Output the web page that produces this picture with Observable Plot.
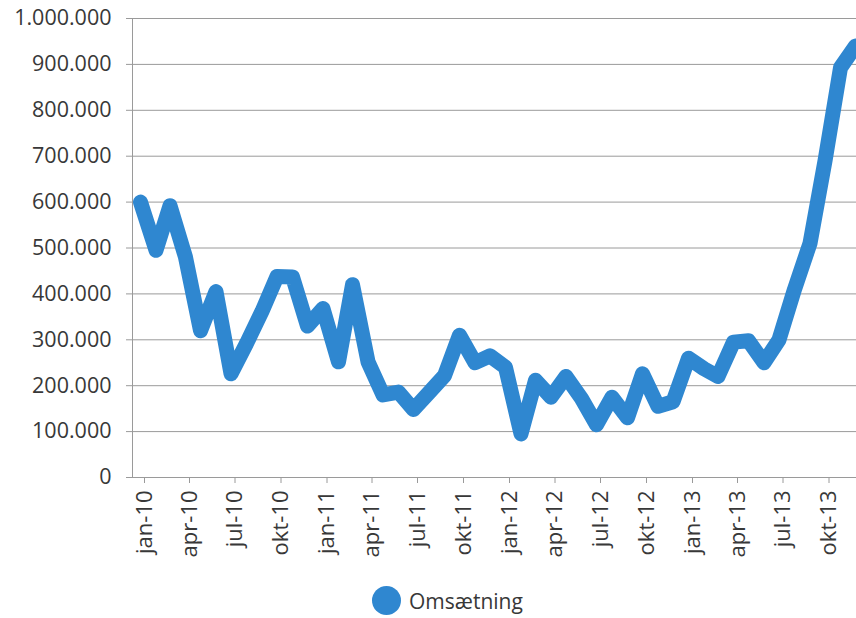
<!DOCTYPE html>
<html>
<head>
<meta charset="utf-8">
<script src="https://cdn.jsdelivr.net/npm/d3@7"></script>
<script src="https://cdn.jsdelivr.net/npm/@observablehq/plot@0.6"></script>
<style>
  html, body { margin: 0; padding: 0; background: #fff; }
  #wrap { position: relative; width: 856px; height: 618px; overflow: hidden; font-family: "Open Sans", sans-serif; }
  #legend { position: absolute; left: 372px; top: 586px; display: flex; align-items: center; gap: 8px; color: #383838; font-size: 21px; }
  #legend .dot { width: 29px; height: 29px; border-radius: 50%; background: #2f87d0; }
</style>
</head>
<body>
<div id="wrap">
  <div id="chart"></div>
  <div id="legend"><span class="dot"></span><span>Omsætning</span></div>
</div>
<script>
// Categories: monthly, jan-10 .. dec-13
const months = [
  "2010-01","2010-02","2010-03","2010-04","2010-05","2010-06","2010-07","2010-08","2010-09","2010-10","2010-11","2010-12",
  "2011-01","2011-02","2011-03","2011-04","2011-05","2011-06","2011-07","2011-08","2011-09","2011-10","2011-11","2011-12",
  "2012-01","2012-02","2012-03","2012-04","2012-05","2012-06","2012-07","2012-08","2012-09","2012-10","2012-11","2012-12",
  "2013-01","2013-02","2013-03","2013-04","2013-05","2013-06","2013-07","2013-08","2013-09","2013-10","2013-11","2013-12"
];
// Series values (Omsætning)
const omsaetning = [
  600000, 495000, 592000, 480000, 320000, 405000, 226000, 292000, 362000, 438000, 437000, 330000,
  368000, 252000, 420000, 252000, 180000, 186000, 148000, 185000, 222000, 310000, 250000, 265000,
  240000,  95000, 212000, 175000, 220000, 172000, 115000, 175000, 130000, 226000, 155000, 165000,
  260000, 237000, 220000, 295000, 298000, 250000, 300000, 410000, 510000, 690000, 893000, 940000
];
// Tick labels (every 3rd month)
const tickLabels = [
  "jan-10","apr-10","jul-10","okt-10","jan-11","apr-11","jul-11","okt-11",
  "jan-12","apr-12","jul-12","okt-12","jan-13","apr-13","jul-13","okt-13"
];
const yTicks = [0,100000,200000,300000,400000,500000,600000,700000,800000,900000,1000000];
const seriesName = "Omsætning";

const parse = d3.utcParse("%Y-%m");
const data = months.map((m, i) => ({date: parse(m), value: omsaetning[i]}));
const tickDates = tickLabels.map((_, i) => parse(months[i * 3]));
const labelOf = new Map(tickDates.map((d, i) => [+d, tickLabels[i]]));

const dk = d3.formatLocale({decimal: ",", thousands: ".", grouping: [3], currency: ["", " kr."]});
const fmt = dk.format(",d");

const xDomain = [new Date(Date.UTC(2009, 11, 16)), new Date(Date.UTC(2013, 11, 3))];
const textColor = "#383838";

const chart = Plot.plot({
  width: 856,
  height: 572,
  marginLeft: 132,
  marginRight: 0,
  marginTop: 18,
  marginBottom: 95,
  style: {fontFamily: "'Open Sans', sans-serif", fontSize: "22px", color: textColor, background: "#fff", overflow: "hidden"},
  x: {type: "utc", domain: xDomain},
  y: {domain: [0, 1000000]},
  marks: [
    Plot.gridY(yTicks, {stroke: "#9a9a9a", strokeOpacity: 1, strokeWidth: 1}),
    Plot.axisY(yTicks, {tickFormat: fmt, tickSize: 6, tickPadding: 15, stroke: "#9a9a9a", fill: textColor, label: null, fontSize: 21.5}),
    Plot.axisX(tickDates, {tickFormat: d => labelOf.get(+d), tickRotate: -90, tickSize: 6, tickPadding: 7, stroke: "#9a9a9a", fill: textColor, label: null, fontSize: 22, dx: 4}),
    Plot.ruleX([xDomain[0]], {stroke: "#9a9a9a"}),
    Plot.ruleY([0], {stroke: "#9a9a9a"}),
    Plot.line(data, {x: "date", y: "value", stroke: "#2f87d0", strokeWidth: 15, strokeLinejoin: "round", strokeLinecap: "round", title: () => seriesName})
  ]
});
document.getElementById("chart").appendChild(chart);
</script>
</body>
</html>
